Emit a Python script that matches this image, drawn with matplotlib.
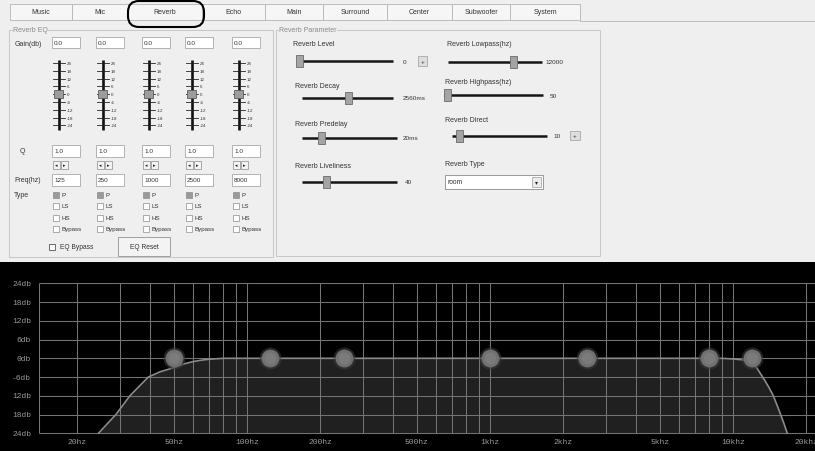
import matplotlib.pyplot as plt
from matplotlib.patches import Rectangle, FancyBboxPatch

# ---------------- GUI content ----------------
tab_names = ['Music', 'Mic', 'Reverb', 'Echo', 'Main', 'Surround', 'Center', 'Subwoofer', 'System']
tab_edges = [10, 72, 128, 202, 265, 323, 387, 452, 510, 580]

band_gain = [0.0, 0.0, 0.0, 0.0, 0.0]
band_q = [1.0, 1.0, 1.0, 1.0, 1.0]
band_freq = [125, 250, 1000, 2500, 8000]
band_type = ['P', 'P', 'P', 'P', 'P']
type_options = ['P', 'LS', 'HS', 'Bypass']
slider_scale = ['24', '18', '12', '6', '0', '-6', '-12', '-18', '-24']

param_names = ['Reverb Level', 'Reverb Decay', 'Reverb Predelay', 'Reverb Liveliness',
               'Reverb Lowpass(hz)', 'Reverb Highpass(hz)', 'Reverb Direct']
param_values = ['0', '2560ms', '20ms', '40', '12000', '50', '10']
reverb_type = 'room'

# ---------------- response chart ----------------
curve_freq = [24.5, 26.6, 28.9, 30.9, 33.0, 36.0, 39.3, 44.0, 50.0, 55.0, 60.0, 65.0,
              70.0, 80.0, 9000, 10000, 11000, 12000, 12530, 13270, 14000, 14680,
              15200, 15730, 16250, 16750]
curve_db = [-24, -21, -18, -15, -12, -9, -6, -4.3, -3.0, -1.8, -1.05, -0.6,
            -0.3, 0, 0, -0.2, -0.5, -1.3, -3, -6, -9, -12,
            -15, -18, -21, -24]
node_freq = [50, 125, 250, 1000, 2500, 8000, 12000]
node_db = [0, 0, 0, 0, 0, 0, 0]

grid_db = [24, 18, 12, 6, 0, -6, -12, -18, -24]
db_labels = ['24db', '18db', '12db', '6db', '0db', '-6db', '12db', '18db', '24db']
grid_freq = [20, 30, 40, 50, 60, 70, 80, 90,
             100, 200, 300, 400, 500, 600, 700, 800, 900,
             1000, 2000, 3000, 4000, 5000, 6000, 7000, 8000, 9000,
             10000, 20000]
freq_ticks = [20, 50, 100, 200, 500, 1000, 2000, 5000, 10000, 20000]
freq_labels = ['20hz', '50hz', '100hz', '200hz', '500hz', '1khz', '2khz', '5khz', '10khz', '20khz']

BG = '#efefef'
TXT = '#333333'
FONT = 'Liberation Sans'

fig = plt.figure(figsize=(8.15, 4.52), dpi=100)
fig.patch.set_facecolor(BG)

# pixel-coordinate axes for the control panel
ui = fig.add_axes([0, 0, 1, 1])
ui.set_xlim(0, 815)
ui.set_ylim(452, 0)
ui.axis('off')


def rect(x0, y0, x1, y1, fc='white', ec='#a8a8a8', lw=0.6, z=2):
    ui.add_patch(Rectangle((x0, y0), x1 - x0, y1 - y0, facecolor=fc,
                           edgecolor=ec, linewidth=lw, zorder=z))


def label(x, y, s, size=5, color=TXT, ha='left', **kw):
    ui.text(x, y, s, fontsize=size, color=color, ha=ha, va='center',
            family=FONT, zorder=5, **kw)


def hslider(x0, x1, y, tx):
    ui.plot([x0, x1], [y, y], color='#151515', lw=1.8, solid_capstyle='butt', zorder=3)
    rect(tx - 3.5, y - 6, tx + 3.5, y + 6, fc='#a4a4a4', ec='#6a6a6a', lw=0.6, z=4)


# tabs
for i, name in enumerate(tab_names):
    x0, x1 = tab_edges[i], tab_edges[i + 1]
    rect(x0, 5, x1, 21, fc='#f6f6f6', ec='#b4b4b4', lw=0.6)
    label((x0 + x1) / 2, 13, name, ha='center')
ui.plot([580, 815], [22, 22], color='#bdbdbd', lw=0.7)
ui.add_patch(FancyBboxPatch((128, 2), 76, 26, boxstyle='round,pad=0,rounding_size=11',
                            facecolor='none', edgecolor='black', linewidth=1.5, zorder=6))

# group boxes
rect(9, 31, 273, 258, fc='none', ec='#c6c6c6', lw=0.7)
rect(276, 31, 600, 257, fc='none', ec='#c6c6c6', lw=0.7)
label(13, 31, 'Reverb EQ', color='#8a8a8a', bbox=dict(fc=BG, ec='none', pad=0.3))
label(279, 31, 'Reverb Parameter', color='#8a8a8a', bbox=dict(fc=BG, ec='none', pad=0.3))

# ---- Reverb EQ columns ----
band_x = [52, 96, 142, 185, 232]
label(15, 44, 'Gain(db)')
label(20, 152, 'Q')
label(14, 181, 'Freq(hz)')
label(14, 196, 'Type')
tick_y0, tick_step = 64, 7.8
for i, xb in enumerate(band_x):
    rect(xb, 38, xb + 28, 49)
    label(xb + 2, 43.5, f'{band_gain[i]:.1f}', size=4.6)
    xc = xb + 6.5
    ui.plot([xc, xc], [61, 131], color='#111111', lw=1.9, solid_capstyle='butt', zorder=3)
    for j, s in enumerate(slider_scale):
        ty = tick_y0 + j * tick_step
        ui.plot([xc - 6, xc + 6], [ty, ty], color='#222222', lw=0.6, zorder=3)
        label(xc + 8, ty, s, size=3.2)
    gy = tick_y0 + (24 - band_gain[i]) / 6 * tick_step
    rect(xc - 4.5, gy - 3.8, xc + 4.5, gy + 3.8, fc='#9c9c9c', ec='#5c5c5c', lw=0.6, z=4)
    # Q box and spin buttons
    rect(xb, 146, xb + 28, 158)
    label(xb + 2, 152, f'{band_q[i]:.1f}', size=4.6)
    rect(xb + 1, 162, xb + 8, 170, fc='#f4f4f4', ec='#8a8a8a', lw=0.5)
    rect(xb + 9, 162, xb + 16, 170, fc='#f4f4f4', ec='#8a8a8a', lw=0.5)
    ui.text(xb + 4.5, 166, '\u25c2', fontsize=3.6, ha='center', va='center', color='#222', zorder=5)
    ui.text(xb + 12.5, 166, '\u25b8', fontsize=3.6, ha='center', va='center', color='#222', zorder=5)
    # frequency box
    rect(xb, 175, xb + 28, 187)
    label(xb + 2, 181, str(band_freq[i]), size=4.6)
    # type check boxes
    for k, opt in enumerate(type_options):
        cy = [196, 207, 219, 230][k]
        fc = '#9a9a9a' if band_type[i] == opt else 'white'
        rect(xb + 1, cy - 3, xb + 7, cy + 3, fc=fc, ec='#8c8c8c', lw=0.5)
        label(xb + 9.5, cy, opt, size=4.4)

rect(49, 245, 55, 251, fc='white', ec='#555555', lw=0.6)
label(60, 248, 'EQ Bypass', size=4.8)
rect(118, 238, 170, 257, fc='#f3f3f3', ec='#a0a0a0', lw=0.7)
label(144, 247.5, 'EQ Reset', size=4.8, ha='center')

# ---- Reverb parameter sliders ----
# (label x, label y, track x0, track x1, track y, thumb x, value x)
param_layout = [
    (293, 45, 297, 393, 62, 299, 403),
    (295, 86, 302, 393, 99, 348.5, 403),
    (295, 124, 302, 397, 139, 321, 403),
    (295, 167, 302, 397, 183, 326, 405),
    (447, 45, 448, 542, 63, 513.5, 545),
    (445, 83, 444, 543, 96, 447, 550),
    (445, 120, 452, 547, 137, 459, 553),
]
for name, val, (lx, ly, t0, t1, ty, tx, vx) in zip(param_names, param_values, param_layout):
    label(lx, ly, name)
    hslider(t0, t1, ty, tx)
    label(vx, ty, val, size=4.6)

# small "+" buttons
for (bx0, by0, bx1, by1) in [(418, 57, 427, 67), (570, 132, 580, 141)]:
    rect(bx0, by0, bx1, by1, fc='#dedede', ec='#9a9a9a', lw=0.5)
    label((bx0 + bx1) / 2, (by0 + by1) / 2, '+', size=4.5, ha='center')

label(445, 165, 'Reverb Type')
rect(445, 176, 543, 190, fc='white', ec='#8a8a8a', lw=0.6)
label(448, 183, reverb_type, size=4.8)
rect(532, 178, 541, 188, fc='#ececec', ec='#9a9a9a', lw=0.5)
ui.text(536.5, 183, '\u25be', fontsize=4.2, ha='center', va='center', color='#222', zorder=5)

# ---------------- EQ response chart ----------------
ax = fig.add_axes([0, 0, 1, 189 / 452])
ax.set_facecolor('black')
ax.set_xscale('log')
ax.set_xlim(9.64, 21780)
ax.set_ylim(-29.66, 30.82)
ax.tick_params(which='both', bottom=False, left=False, labelbottom=False, labelleft=False)
for sp in ax.spines.values():
    sp.set_visible(False)

grid_left = 14
grid_col = '#747474'
ax.fill_between(curve_freq, curve_db, -24, color='#202020', lw=0, zorder=1)
ax.hlines(grid_db, grid_left, 30000, color=grid_col, lw=0.75, zorder=2)
ax.vlines(grid_freq + [grid_left], -24, 24, color=grid_col, lw=0.75, zorder=2)
ax.plot(curve_freq, curve_db, color='#8a8a8a', lw=1.2, zorder=3)

ax.scatter(node_freq, node_db, s=250, color='#3c3c3c', alpha=0.6, lw=0, zorder=4)
ax.scatter(node_freq, node_db, s=165, color='#707070', lw=0, zorder=5)
ax.scatter(node_freq, node_db, s=70, color='#7e7e7e', alpha=0.8, lw=0, zorder=6)

ytr = ax.get_yaxis_transform()
for v, s in zip(grid_db, db_labels):
    ax.text(31 / 815, v, s, transform=ytr, ha='right', va='center', fontsize=5.8,
            color='#9a9a9a', family='Liberation Mono')
xtr = ax.get_xaxis_transform()
for f, s in zip(freq_ticks, freq_labels):
    ax.text(f, 9 / 189, s, transform=xtr, ha='center', va='center', fontsize=5.8,
            color='#9a9a9a', family='Liberation Mono', clip_on=False)

fig.savefig('out.png', dpi=100, facecolor=fig.get_facecolor())
